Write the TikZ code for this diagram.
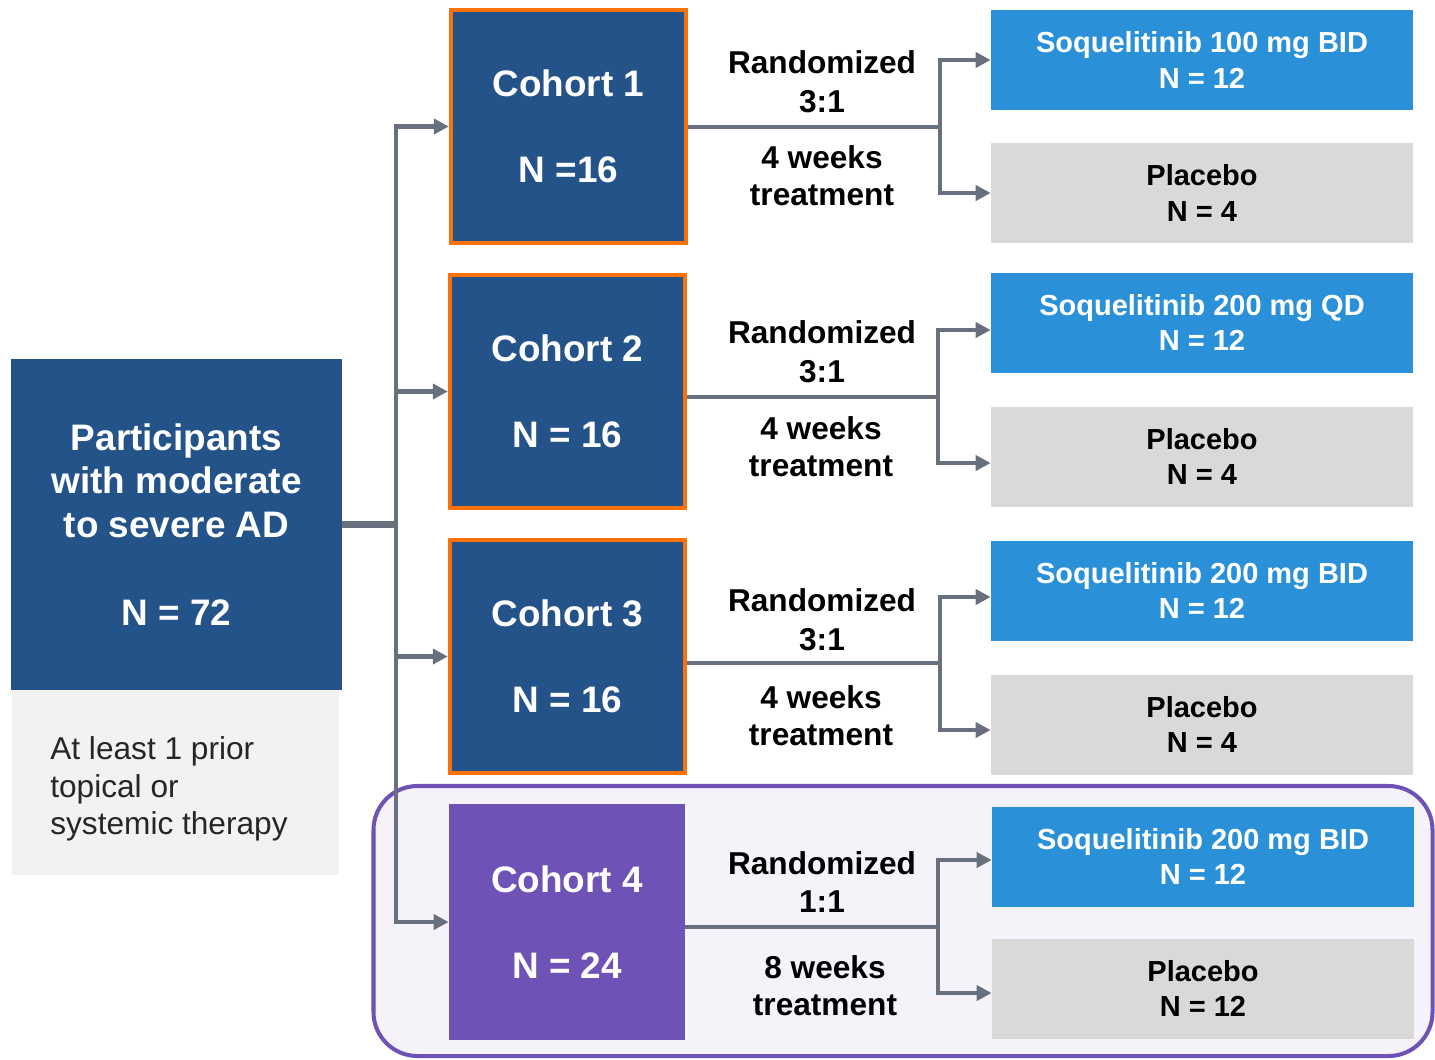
\documentclass[tikz,border=0pt]{standalone}
\usepackage{fontspec}
\setmainfont{Liberation Sans}
\usetikzlibrary{arrows.meta}
\newdimen\pxu \pxu=0.02cm
\definecolor{dblue}{RGB}{36,83,138}
\definecolor{orng}{RGB}{250,115,10}
\definecolor{purp}{RGB}{111,82,181}
\definecolor{purpfill}{RGB}{245,242,250}
\definecolor{bblue}{RGB}{42,145,216}
\definecolor{armgray}{RGB}{217,217,217}
\definecolor{conngray}{RGB}{104,112,127}
\definecolor{priorgray}{RGB}{242,242,242}
\definecolor{txtgray}{RGB}{38,38,38}
\tikzset{
  cohort/.style={fill=dblue, draw=orng, line width=2.5pt, minimum width=235*\pxu, minimum height=233*\pxu, inner sep=0pt, text=white, align=center, font=\fontsize{21}{25}\selectfont\bfseries},
  cohortp/.style={fill=purp, minimum width=236*\pxu, minimum height=236*\pxu, inner sep=0pt, text=white, align=center, font=\fontsize{21}{25}\selectfont\bfseries},
  armbox/.style={fill=bblue, minimum width=422*\pxu, minimum height=100*\pxu, inner sep=0pt, text=white, align=center, font=\fontsize{16.5}{20}\selectfont\bfseries},
  plcbox/.style={fill=armgray, minimum width=422*\pxu, minimum height=100*\pxu, inner sep=0pt, text=black, align=center, font=\fontsize{16.5}{20}\selectfont\bfseries},
  randtxt/.style={align=center, inner sep=0pt, font=\fontsize{18}{22}\selectfont\bfseries},
  treattxt/.style={align=center, inner sep=0pt, font=\fontsize{18}{21}\selectfont\bfseries},
  conn/.style={draw=conngray, line width=2.3pt},
  arr/.style={conn, -{Triangle[length=8.5pt,width=8.5pt]}},
}
\begin{document}
\begin{tikzpicture}[x=0.02cm, y=-0.02cm]
\useasboundingbox (0,0) rectangle (1435,1059);
% cohort 4 group
\node[draw=purp, fill=purpfill, line width=2.3pt, rounded corners=25pt, minimum width=1059*\pxu, minimum height=270*\pxu, inner sep=0pt] (grp4) at (903,921) {};
% left boxes
\node[fill=dblue, minimum width=331*\pxu, minimum height=331*\pxu, inner sep=0pt, text=white, align=center, font=\fontsize{21}{25}\selectfont\bfseries] (part) at (176.5,524.5) {Participants\\with moderate\\to severe AD\\[25pt]N = 72};
\node[fill=priorgray, minimum width=327*\pxu, minimum height=185*\pxu, inner sep=0pt] (prior) at (175.5,782.5) {};
\node[anchor=west, align=left, inner sep=0pt, text=txtgray, font=\fontsize{18}{21.5}\selectfont] (priortxt) at (50,789) {At least 1 prior\\topical or\\systemic therapy};
% cohorts
\node[cohort] (c1) at (568.5,126.5) {Cohort 1\\[24pt]N =16};
\node[cohort] (c2) at (567.5,391.5) {Cohort 2\\[24pt]N = 16};
\node[cohort] (c3) at (567.5,656.5) {Cohort 3\\[24pt]N = 16};
\node[cohortp] (c4) at (567,922) {Cohort 4\\[24pt]N = 24};
% arms
\node[armbox] (a1) at (1202,60) {Soquelitinib 100 mg BID\\N = 12};
\node[plcbox] (p1) at (1202,193) {Placebo\\N = 4};
\node[armbox] (a2) at (1202,322.5) {Soquelitinib 200 mg QD\\N = 12};
\node[plcbox] (p2) at (1202,456.5) {Placebo\\N = 4};
\node[armbox] (a3) at (1202,590.5) {Soquelitinib 200 mg BID\\N = 12};
\node[plcbox] (p3) at (1202,724.5) {Placebo\\N = 4};
\node[armbox] (a4) at (1203,856.5) {Soquelitinib 200 mg BID\\N = 12};
\node[plcbox] (p4) at (1203,988.5) {Placebo\\N = 12};
% texts
\node[randtxt] (r1) at (822,81.5) {Randomized\\3:1};
\node[treattxt] (t1) at (822,175.5) {4 weeks\\treatment};
\node[randtxt] (r2) at (822,352) {Randomized\\3:1};
\node[treattxt] (t2) at (821,447) {4 weeks\\treatment};
\node[randtxt] (r3) at (822,619.5) {Randomized\\3:1};
\node[treattxt] (t3) at (821,716) {4 weeks\\treatment};
\node[randtxt] (r4) at (822,882) {Randomized\\1:1};
\node[treattxt] (t4) at (825,985.5) {8 weeks\\treatment};
% left connectors
\coordinate (hub) at (396,524.5);
\draw[conn, line width=4pt] (part.east) -- (hub);
\draw[arr] (hub) |- (c1.west);
\draw[arr] (hub) |- (c2.west);
\draw[arr] (hub) |- (c3.west);
\draw[arr] (hub) |- (c4.west);
% right connectors
\coordinate (s1) at (940,127);
\coordinate (s2) at (938,397);
\coordinate (s3) at (940,663);
\coordinate (s4) at (938,927);
\draw[conn] (c1.east |- s1) -- (s1);
\draw[arr] (s1) |- (a1.west);
\draw[arr] (s1) |- (p1.west);
\draw[conn] (c2.east |- s2) -- (s2);
\draw[arr] (s2) |- ([yshift=-7.5*\pxu]a2.west);
\draw[arr] (s2) |- ([yshift=-6.5*\pxu]p2.west);
\draw[conn] (c3.east |- s3) -- (s3);
\draw[arr] (s3) |- ([yshift=-6.5*\pxu]a3.west);
\draw[arr] (s3) |- ([yshift=-5.5*\pxu]p3.west);
\draw[conn] (c4.east |- s4) -- (s4);
\draw[arr] (s4) |- ([yshift=-3.5*\pxu]a4.west);
\draw[arr] (s4) |- ([yshift=-4.5*\pxu]p4.west);
\end{tikzpicture}
\end{document}
